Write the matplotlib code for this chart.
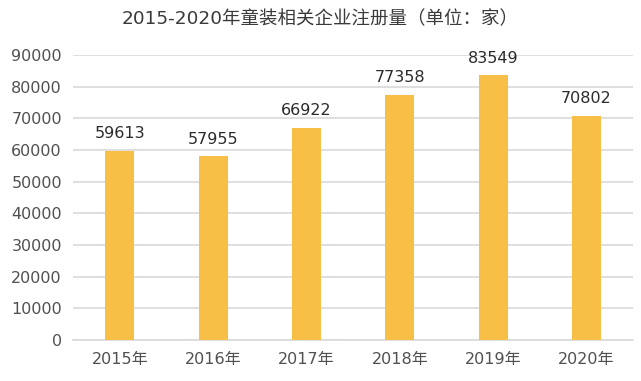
import matplotlib.pyplot as plt
import numpy as np

plt.rcParams['font.family'] = ['DejaVu Sans', 'Noto Sans CJK SC']

years = ['2015年', '2016年', '2017年', '2018年', '2019年', '2020年']
counts = [59613, 57955, 66922, 77358, 83549, 70802]
title = '2015-2020年童装相关企业注册量（单位：家）'

fig = plt.figure(figsize=(6.41, 3.81), dpi=100)
ax = fig.add_axes([0.114, 0.108, 0.874, 0.748])

x = np.arange(len(years))
ax.bar(x, counts, width=0.31, color='#F8BF46', zorder=3)
for xi, v in zip(x, counts):
    ax.annotate(str(v), (xi, v), xytext=(0, 7), textcoords='offset points',
                ha='center', va='bottom', fontsize=11.5, color='#2b2b2b')

ax.set_xlim(-0.5, len(years) - 0.5)
ax.set_ylim(0, 90000)
ax.set_yticks(range(0, 90001, 10000))
ax.set_xticks(x)
ax.set_xticklabels(years)
ax.tick_params(axis='both', length=0, labelsize=11.5, colors='#505050')
ax.tick_params(axis='y', pad=8)
ax.tick_params(axis='x', pad=9)
ax.grid(axis='y', color='#d9d9d9', linewidth=1.2, zorder=0)
for s in ['top', 'right', 'left']:
    ax.spines[s].set_visible(False)
ax.spines['bottom'].set_color('#d9d9d9')
ax.spines['bottom'].set_linewidth(1.2)

fig.text(0.5, 0.95, title, ha='center', va='center', fontsize=13.3, color='#3a3a3a')

fig.savefig('out.png', dpi=100)
